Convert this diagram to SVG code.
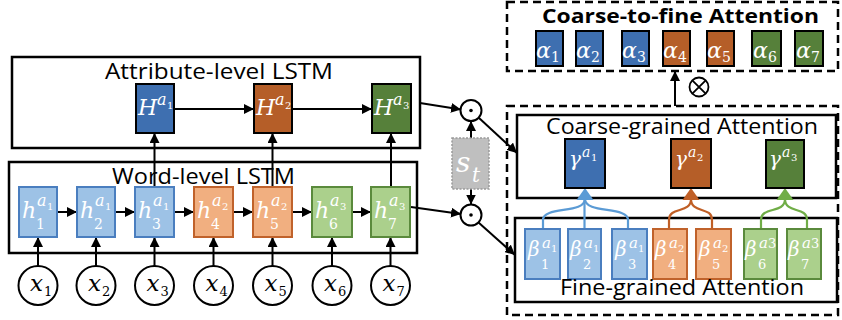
<svg xmlns="http://www.w3.org/2000/svg" width="842" height="320" viewBox="0 0 842 320">
  <defs>
    <style>
      .frame { fill: #fff; stroke: #000; stroke-width: 2.5; }
      .dash { fill: none; stroke: #000; stroke-width: 2.5; stroke-dasharray: 8 5; }
      .title { font-family: "Open Sans", "Noto Sans", sans-serif; font-size: 21px; fill: #000; }
      .bold { font-weight: bold; font-size: 19px; }
      .math { font-family: "DejaVu Serif", "Liberation Serif", serif; font-style: italic; fill: #fff; }
      .xm { fill: #000; }
      .num { font-style: normal; }
      .dB { fill: #3E6FB0; stroke: #000; stroke-width: 2; }
      .dO { fill: #B55E28; stroke: #000; stroke-width: 2; }
      .dG { fill: #56803A; stroke: #000; stroke-width: 2; }
      .lB { fill: #9DC2E6; stroke: #4A7EBF; stroke-width: 2; }
      .lO { fill: #F1AF80; stroke: #C0622B; stroke-width: 2; }
      .lG { fill: #ABD08C; stroke: #5A8A3C; stroke-width: 2; }
      .sm { fill: #BFBFBF; stroke: #9A9A9A; stroke-width: 1.5; stroke-dasharray: 2 1.5; }
      .inp { fill: #fff; stroke: #000; stroke-width: 2; }
      .ln { fill: none; stroke: #000; stroke-width: 2; }
      .cB { fill: none; stroke: #5B9BD5; stroke-width: 2.2; }
      .cO { fill: none; stroke: #C05F26; stroke-width: 2.2; }
      .cG { fill: none; stroke: #70AD47; stroke-width: 2.2; }
    </style>
    <marker id="ah" viewBox="0 0 10 10" refX="10" refY="5" markerWidth="10" markerHeight="10" markerUnits="userSpaceOnUse" orient="auto">
      <path d="M0,0 L10,5 L0,10 z" fill="#000"/>
    </marker>
  </defs>

  <!-- outer frames -->
  <g id="attribute-lstm">
    <rect class="frame" x="12" y="57" width="408" height="91"/>
    <text class="title" x="105" y="79" textLength="228" lengthAdjust="spacingAndGlyphs">Attribute-level LSTM</text>
  </g>
  <g id="word-lstm">
    <rect class="frame" x="9" y="162" width="408" height="91"/>
    <text class="title" x="112" y="184" textLength="183" lengthAdjust="spacingAndGlyphs">Word-level LSTM</text>
  </g>
  <g id="coarse-to-fine">
    <rect class="dash" x="507" y="2" width="331" height="69"/>
    <text class="title bold" x="542" y="23" textLength="277" lengthAdjust="spacingAndGlyphs">Coarse-to-fine Attention</text>
  </g>
  <g id="attention-module">
    <rect class="dash" x="507" y="106" width="331" height="209"/>
  </g>
  <g id="coarse-grained">
    <rect class="frame" x="517" y="115" width="319" height="83"/>
    <text class="title" x="546" y="134" textLength="272" lengthAdjust="spacingAndGlyphs">Coarse-grained Attention</text>
  </g>
  <g id="fine-grained">
    <rect class="frame" x="515" y="218" width="322" height="84"/>
  </g>

  <!-- connectors -->
  <g id="connectors">
    <!-- inputs to word-level cells -->
    <line class="ln" x1="38" y1="266" x2="38" y2="237" marker-end="url(#ah)"/>
    <line class="ln" x1="96" y1="266" x2="96" y2="237" marker-end="url(#ah)"/>
    <line class="ln" x1="154.5" y1="266" x2="154.5" y2="237" marker-end="url(#ah)"/>
    <line class="ln" x1="213.5" y1="266" x2="213.5" y2="237" marker-end="url(#ah)"/>
    <line class="ln" x1="272.5" y1="266" x2="272.5" y2="237" marker-end="url(#ah)"/>
    <line class="ln" x1="332" y1="266" x2="332" y2="237" marker-end="url(#ah)"/>
    <line class="ln" x1="390.5" y1="266" x2="390.5" y2="237" marker-end="url(#ah)"/>
    <!-- word-level chain -->
    <line class="ln" x1="57" y1="212" x2="77" y2="212" marker-end="url(#ah)"/>
    <line class="ln" x1="115" y1="212" x2="135" y2="212" marker-end="url(#ah)"/>
    <line class="ln" x1="174" y1="212" x2="194" y2="212" marker-end="url(#ah)"/>
    <line class="ln" x1="233" y1="212" x2="253" y2="212" marker-end="url(#ah)"/>
    <line class="ln" x1="292" y1="212" x2="312" y2="212" marker-end="url(#ah)"/>
    <line class="ln" x1="352" y1="212" x2="371" y2="212" marker-end="url(#ah)"/>
    <!-- word-level to attribute-level -->
    <line class="ln" x1="154.5" y1="187" x2="154.5" y2="133" marker-end="url(#ah)"/>
    <line class="ln" x1="272.5" y1="187" x2="272.5" y2="133" marker-end="url(#ah)"/>
    <line class="ln" x1="391" y1="187" x2="391" y2="133" marker-end="url(#ah)"/>
    <!-- attribute-level chain -->
    <line class="ln" x1="174" y1="109" x2="254" y2="109" marker-end="url(#ah)"/>
    <line class="ln" x1="292" y1="109" x2="372" y2="109" marker-end="url(#ah)"/>
    <!-- into the products with s_t -->
    <line class="ln" x1="420" y1="103" x2="461" y2="109.5" marker-end="url(#ah)"/>
    <line class="ln" x1="411" y1="207" x2="461" y2="214" marker-end="url(#ah)"/>
    <line class="ln" x1="471" y1="138" x2="471" y2="121" marker-end="url(#ah)"/>
    <line class="ln" x1="471" y1="189" x2="471" y2="204.5" marker-end="url(#ah)"/>
    <line class="ln" x1="478.5" y1="117.5" x2="517" y2="153" marker-end="url(#ah)"/>
    <line class="ln" x1="478.5" y1="222.5" x2="515" y2="255" marker-end="url(#ah)"/>
    <!-- up to coarse-to-fine -->
    <line class="ln" x1="675" y1="106" x2="675" y2="71" marker-end="url(#ah)"/>
    <!-- fine to coarse grouping -->
    <path class="cB" d="M543 229 V220 C543 206 585 214 585 199"/>
    <path class="cB" d="M584.5 229 V199"/>
    <path class="cB" d="M628 229 V220 C628 206 585 214 585 199"/>
    <path d="M585 188 L593.5 200 L576.5 200 z" fill="#5B9BD5"/>
    <path class="cO" d="M669 229 V220 C669 206 691 214 691 199"/>
    <path class="cO" d="M712 229 V220 C712 206 691 214 691 199"/>
    <path d="M691 188 L699.5 200 L682.5 200 z" fill="#C05F26"/>
    <path class="cG" d="M761 229 V220 C761 206 785 214 785 199"/>
    <path class="cG" d="M807 236 V220 C807 206 785 214 785 199"/>
    <path d="M785 188 L793.5 200 L776.5 200 z" fill="#70AD47"/>
  </g>

  <!-- product operators -->
  <g id="dot-upper">
    <circle cx="471" cy="110.5" r="10.5" class="inp"/>
    <circle cx="471" cy="110.5" r="1.8" fill="#000"/>
  </g>
  <g id="dot-lower">
    <circle cx="471" cy="215" r="10.5" class="inp"/>
    <circle cx="471" cy="215" r="1.8" fill="#000"/>
  </g>
  <g id="otimes">
    <circle cx="699" cy="87" r="9.5" fill="#fff" stroke="#000" stroke-width="1.8"/>
    <path d="M692.3 80.3 L705.7 93.7 M705.7 80.3 L692.3 93.7" stroke="#000" stroke-width="1.8"/>
  </g>

  <!-- state s_t -->
  <g id="s-t">
    <rect class="sm" x="452" y="138" width="37" height="51"/>
    <text class="math"><tspan x="456" y="172" font-size="28">s</tspan><tspan x="472" y="182" font-size="20">t</tspan></text>
  </g>

  <!-- attribute-level cells -->
  <g id="H-a1">
    <rect class="dB" x="136" y="84" width="38" height="49"/>
    <text class="math"><tspan x="138" y="115" font-size="22">H</tspan><tspan x="157" y="105" font-size="16">a</tspan><tspan class="num" x="167" y="109" font-size="10">1</tspan></text>
  </g>
  <g id="H-a2">
    <rect class="dO" x="254" y="84" width="38" height="49"/>
    <text class="math"><tspan x="256" y="115" font-size="22">H</tspan><tspan x="275" y="105" font-size="16">a</tspan><tspan class="num" x="285" y="109" font-size="10">2</tspan></text>
  </g>
  <g id="H-a3">
    <rect class="dG" x="372" y="84" width="39" height="49"/>
    <text class="math"><tspan x="374" y="115" font-size="22">H</tspan><tspan x="393" y="105" font-size="16">a</tspan><tspan class="num" x="403" y="109" font-size="10">3</tspan></text>
  </g>

  <!-- word-level cells -->
  <g id="h1">
    <rect class="lB" x="19" y="187" width="38" height="50"/>
    <text class="math"><tspan x="22" y="218" font-size="22">h</tspan><tspan x="37" y="206" font-size="16">a</tspan><tspan class="num" x="47" y="210" font-size="10">1</tspan><tspan class="num" x="36" y="229" font-size="14">1</tspan></text>
  </g>
  <g id="h2">
    <rect class="lB" x="77" y="187" width="38" height="50"/>
    <text class="math"><tspan x="80" y="218" font-size="22">h</tspan><tspan x="95" y="206" font-size="16">a</tspan><tspan class="num" x="105" y="210" font-size="10">1</tspan><tspan class="num" x="94" y="229" font-size="14">2</tspan></text>
  </g>
  <g id="h3">
    <rect class="lB" x="135" y="187" width="39" height="50"/>
    <text class="math"><tspan x="138" y="218" font-size="22">h</tspan><tspan x="153" y="206" font-size="16">a</tspan><tspan class="num" x="163" y="210" font-size="10">1</tspan><tspan class="num" x="152" y="229" font-size="14">3</tspan></text>
  </g>
  <g id="h4">
    <rect class="lO" x="194" y="187" width="39" height="50"/>
    <text class="math"><tspan x="197" y="218" font-size="22">h</tspan><tspan x="212" y="206" font-size="16">a</tspan><tspan class="num" x="222" y="210" font-size="10">2</tspan><tspan class="num" x="211" y="229" font-size="14">4</tspan></text>
  </g>
  <g id="h5">
    <rect class="lO" x="253" y="187" width="39" height="50"/>
    <text class="math"><tspan x="256" y="218" font-size="22">h</tspan><tspan x="271" y="206" font-size="16">a</tspan><tspan class="num" x="281" y="210" font-size="10">2</tspan><tspan class="num" x="270" y="229" font-size="14">5</tspan></text>
  </g>
  <g id="h6">
    <rect class="lG" x="312" y="187" width="40" height="50"/>
    <text class="math"><tspan x="315" y="218" font-size="22">h</tspan><tspan x="330" y="206" font-size="16">a</tspan><tspan class="num" x="340" y="210" font-size="10">3</tspan><tspan class="num" x="329" y="229" font-size="14">6</tspan></text>
  </g>
  <g id="h7">
    <rect class="lG" x="371" y="187" width="39" height="50"/>
    <text class="math"><tspan x="374" y="218" font-size="22">h</tspan><tspan x="389" y="206" font-size="16">a</tspan><tspan class="num" x="399" y="210" font-size="10">3</tspan><tspan class="num" x="388" y="229" font-size="14">7</tspan></text>
  </g>

  <!-- inputs -->
  <g id="x1"><circle class="inp" cx="38" cy="285.5" r="19.5"/><text class="math xm"><tspan x="30" y="291" font-size="23">x</tspan><tspan class="num" x="44" y="296" font-size="13">1</tspan></text></g>
  <g id="x2"><circle class="inp" cx="96" cy="285.5" r="19.5"/><text class="math xm"><tspan x="88" y="291" font-size="23">x</tspan><tspan class="num" x="102" y="296" font-size="13">2</tspan></text></g>
  <g id="x3"><circle class="inp" cx="154.5" cy="285.5" r="19.5"/><text class="math xm"><tspan x="146.5" y="291" font-size="23">x</tspan><tspan class="num" x="160.5" y="296" font-size="13">3</tspan></text></g>
  <g id="x4"><circle class="inp" cx="213.5" cy="285.5" r="19.5"/><text class="math xm"><tspan x="205.5" y="291" font-size="23">x</tspan><tspan class="num" x="219.5" y="296" font-size="13">4</tspan></text></g>
  <g id="x5"><circle class="inp" cx="272.5" cy="285.5" r="19.5"/><text class="math xm"><tspan x="264.5" y="291" font-size="23">x</tspan><tspan class="num" x="278.5" y="296" font-size="13">5</tspan></text></g>
  <g id="x6"><circle class="inp" cx="332" cy="285.5" r="19.5"/><text class="math xm"><tspan x="324" y="291" font-size="23">x</tspan><tspan class="num" x="338" y="296" font-size="13">6</tspan></text></g>
  <g id="x7"><circle class="inp" cx="390.5" cy="285.5" r="19.5"/><text class="math xm"><tspan x="382.5" y="291" font-size="23">x</tspan><tspan class="num" x="396.5" y="296" font-size="13">7</tspan></text></g>

  <!-- coarse-grained weights -->
  <g id="gamma-a1">
    <rect class="dB" x="565" y="139" width="40" height="49"/>
    <text class="math"><tspan x="569" y="166" font-size="20">γ</tspan><tspan x="582" y="157" font-size="14">a</tspan><tspan class="num" x="591" y="161" font-size="10">1</tspan></text>
  </g>
  <g id="gamma-a2">
    <rect class="dO" x="671" y="139" width="40" height="49"/>
    <text class="math"><tspan x="675" y="166" font-size="20">γ</tspan><tspan x="688" y="157" font-size="14">a</tspan><tspan class="num" x="697" y="161" font-size="10">2</tspan></text>
  </g>
  <g id="gamma-a3">
    <rect class="dG" x="766" y="140" width="38" height="48"/>
    <text class="math"><tspan x="769" y="166" font-size="20">γ</tspan><tspan x="782" y="157" font-size="14">a</tspan><tspan class="num" x="791" y="161" font-size="10">3</tspan></text>
  </g>

  <!-- fine-grained weights -->
  <g id="beta1">
    <rect class="lB" x="525" y="229" width="35" height="50"/>
    <text class="math"><tspan x="528" y="256" font-size="20">β</tspan><tspan x="542" y="248" font-size="15">a</tspan><tspan class="num" x="551" y="252" font-size="10">1</tspan><tspan class="num" x="541" y="269" font-size="13">1</tspan></text>
  </g>
  <g id="beta2">
    <rect class="lB" x="568" y="229" width="33" height="50"/>
    <text class="math"><tspan x="570" y="256" font-size="20">β</tspan><tspan x="584" y="248" font-size="15">a</tspan><tspan class="num" x="593" y="252" font-size="10">1</tspan><tspan class="num" x="583" y="269" font-size="13">2</tspan></text>
  </g>
  <g id="beta3">
    <rect class="lB" x="612" y="229" width="35" height="50"/>
    <text class="math"><tspan x="615" y="256" font-size="20">β</tspan><tspan x="629" y="248" font-size="15">a</tspan><tspan class="num" x="638" y="252" font-size="10">1</tspan><tspan class="num" x="628" y="269" font-size="13">3</tspan></text>
  </g>
  <g id="beta4">
    <rect class="lO" x="653" y="229" width="34" height="50"/>
    <text class="math"><tspan x="655" y="256" font-size="20">β</tspan><tspan x="669" y="248" font-size="15">a</tspan><tspan class="num" x="678" y="252" font-size="10">2</tspan><tspan class="num" x="668" y="269" font-size="13">4</tspan></text>
  </g>
  <g id="beta5">
    <rect class="lO" x="696" y="229" width="35" height="50"/>
    <text class="math"><tspan x="699" y="256" font-size="20">β</tspan><tspan x="713" y="248" font-size="15">a</tspan><tspan class="num" x="722" y="252" font-size="10">2</tspan><tspan class="num" x="712" y="269" font-size="13">5</tspan></text>
  </g>
  <g id="beta6">
    <rect class="lG" x="744" y="229" width="33" height="50"/>
    <text class="math"><tspan x="745" y="256" font-size="20">β</tspan><tspan x="759" y="248" font-size="15">a</tspan><tspan class="num" x="768" y="248" font-size="13">3</tspan><tspan class="num" x="758" y="269" font-size="13">6</tspan></text>
  </g>
  <g id="beta7">
    <rect class="lG" x="787" y="229" width="34" height="50"/>
    <text class="math"><tspan x="788" y="256" font-size="20">β</tspan><tspan x="802" y="248" font-size="15">a</tspan><tspan class="num" x="811" y="248" font-size="13">3</tspan><tspan class="num" x="801" y="269" font-size="13">7</tspan></text>
  </g>
  <text class="title" x="560" y="295" textLength="244" lengthAdjust="spacingAndGlyphs">Fine-grained Attention</text>

  <!-- coarse-to-fine weights -->
  <g id="alpha1"><rect class="dB" x="536" y="31" width="27" height="35" stroke-width="1.6"/><text class="math"><tspan x="536" y="58" font-size="22">α</tspan><tspan class="num" x="551" y="62" font-size="14">1</tspan></text></g>
  <g id="alpha2"><rect class="dB" x="576" y="31" width="27" height="35" stroke-width="1.6"/><text class="math"><tspan x="576" y="58" font-size="22">α</tspan><tspan class="num" x="591" y="62" font-size="14">2</tspan></text></g>
  <g id="alpha3"><rect class="dB" x="622" y="31" width="27" height="35" stroke-width="1.6"/><text class="math"><tspan x="622" y="58" font-size="22">α</tspan><tspan class="num" x="637" y="62" font-size="14">3</tspan></text></g>
  <g id="alpha4"><rect class="dO" x="663" y="31" width="27" height="35" stroke-width="1.6"/><text class="math"><tspan x="663" y="58" font-size="22">α</tspan><tspan class="num" x="678" y="62" font-size="14">4</tspan></text></g>
  <g id="alpha5"><rect class="dO" x="707" y="31" width="27" height="35" stroke-width="1.6"/><text class="math"><tspan x="707" y="58" font-size="22">α</tspan><tspan class="num" x="722" y="62" font-size="14">5</tspan></text></g>
  <g id="alpha6"><rect class="dG" x="752" y="31" width="29" height="35" stroke-width="1.6"/><text class="math"><tspan x="753" y="58" font-size="22">α</tspan><tspan class="num" x="768" y="62" font-size="14">6</tspan></text></g>
  <g id="alpha7"><rect class="dG" x="795" y="31" width="28" height="35" stroke-width="1.6"/><text class="math"><tspan x="796" y="58" font-size="22">α</tspan><tspan class="num" x="811" y="62" font-size="14">7</tspan></text></g>
</svg>
